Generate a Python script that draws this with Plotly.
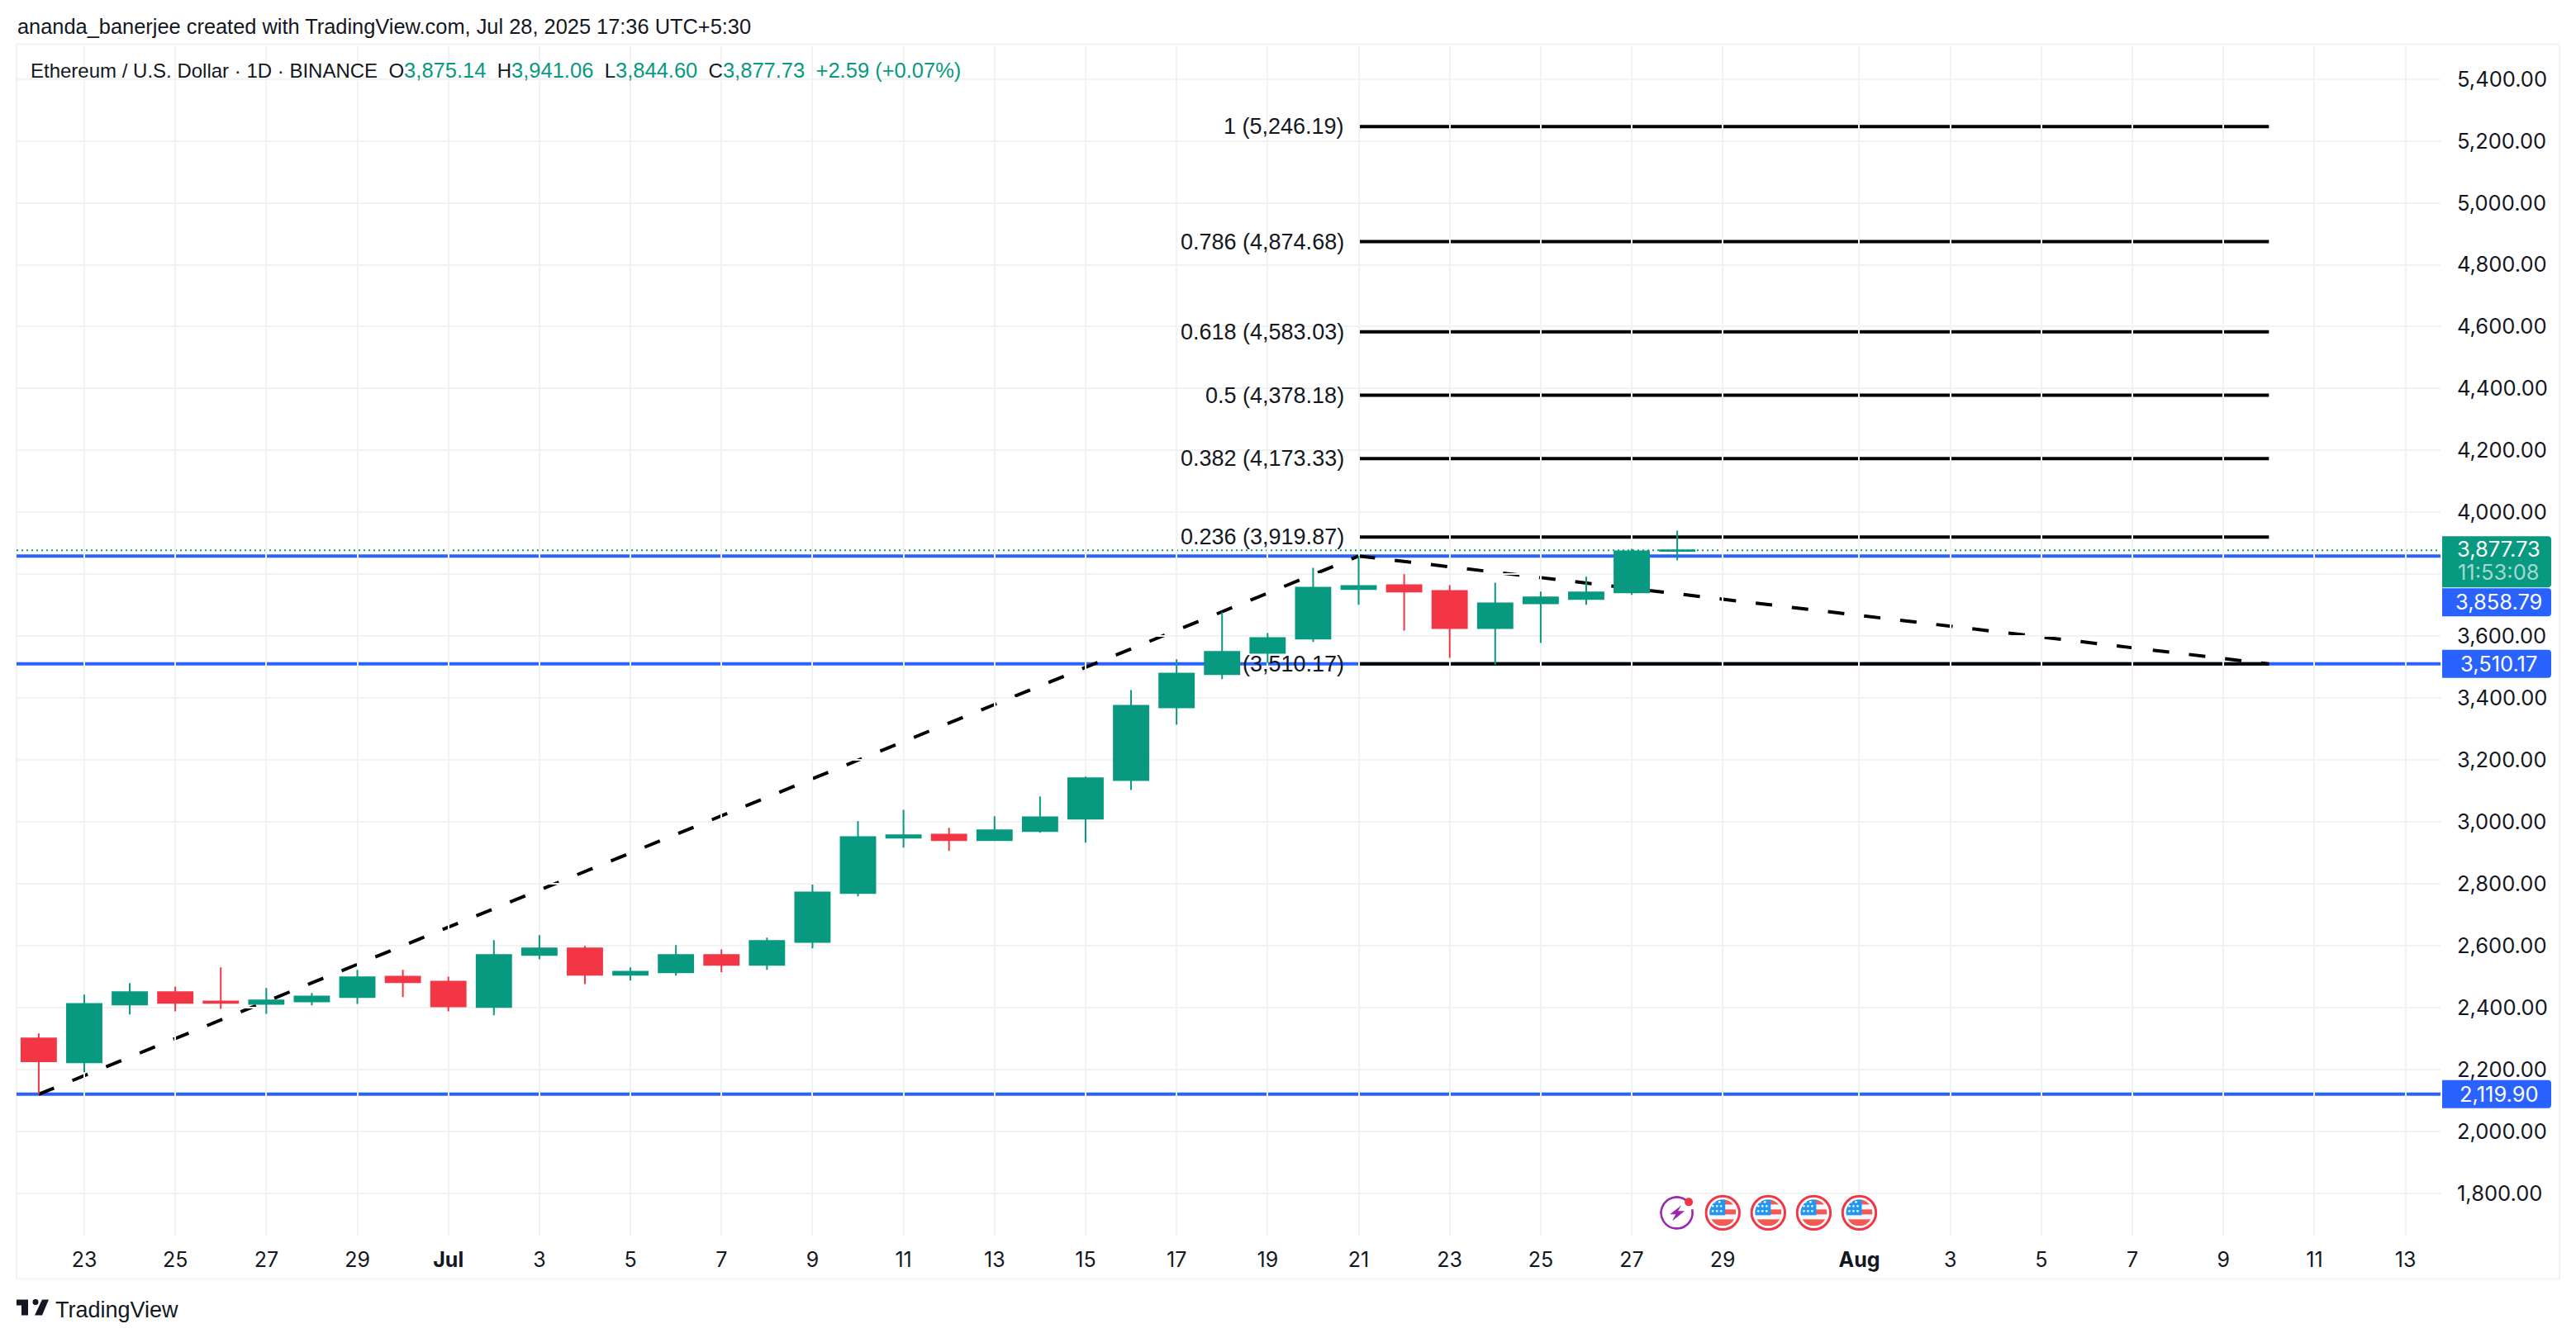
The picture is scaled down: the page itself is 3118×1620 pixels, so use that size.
import base64
import plotly.graph_objects as go

# candle data
dates = ['2025-06-22', '2025-06-23', '2025-06-24', '2025-06-25', '2025-06-26', '2025-06-27', '2025-06-28',
         '2025-06-29', '2025-06-30', '2025-07-01', '2025-07-02', '2025-07-03', '2025-07-04', '2025-07-05',
         '2025-07-06', '2025-07-07', '2025-07-08', '2025-07-09', '2025-07-10', '2025-07-11', '2025-07-12',
         '2025-07-13', '2025-07-14', '2025-07-15', '2025-07-16', '2025-07-17', '2025-07-18', '2025-07-19',
         '2025-07-20', '2025-07-21', '2025-07-22', '2025-07-23', '2025-07-24', '2025-07-25', '2025-07-26',
         '2025-07-27', '2025-07-28']
opens = [2300, 2223, 2410, 2450, 2420, 2412, 2420, 2434, 2500, 2484, 2402, 2570, 2591, 2506, 2514, 2570, 2538, 2612,
         2770, 2949, 2959, 2941, 2970, 3010, 3135, 3370, 3477, 3546, 3592, 3752, 3765, 3746, 3626, 3706, 3720,
         3741, 3875.14]
highs = [2316, 2442, 2479, 2468, 2530, 2463, 2447, 2522, 2522, 2500, 2618, 2634, 2599, 2530, 2602, 2588, 2626, 2797,
         3002, 3039, 2981, 3018, 3082, 3146, 3426, 3525, 3677, 3610, 3821, 3859, 3800, 3765, 3773, 3744, 3792,
         3882, 3941.06]
lows = [2119.9, 2191, 2378, 2388, 2396, 2380, 2407, 2412, 2434, 2388, 2375, 2556, 2476, 2487, 2503, 2514, 2522, 2591,
        2759, 2917, 2906, 2938, 2965, 2933, 3103, 3314, 3461, 3513, 3581, 3701, 3618, 3530, 3508, 3578, 3701,
        3733, 3844.6]
closes = [2226, 2412, 2450, 2415, 2415, 2423, 2436, 2498, 2482, 2404, 2570, 2591, 2506, 2516, 2570, 2538, 2615, 2772,
          2951, 2957, 2941, 2973, 3015, 3141, 3375, 3479, 3549, 3594, 3757, 3762, 3744, 3626, 3706, 3725, 3741,
          3874, 3877.73]

# fib levels and the drawn lines
fib_prices = [5246.19, 4874.68, 4583.03, 4378.18, 4173.33, 3919.87, 3510.17]
fib_labels = ['1 (5,246.19)', '0.786 (4,874.68)', '0.618 (4,583.03)', '0.5 (4,378.18)', '0.382 (4,173.33)',
              '0.236 (3,919.87)', '(3,510.17)']
fib_start = '2025-07-21'
fib_end = '2025-08-10'
trend_dates = ['2025-06-22', '2025-07-21', '2025-08-10']
trend_prices = [2119.90, 3858.79, 3510.17]
blue_prices = [3858.79, 3510.17, 2119.90]
last_price = 3877.73

# axes
x_ticks = ['2025-06-23', '2025-06-25', '2025-06-27', '2025-06-29', '2025-07-01', '2025-07-03', '2025-07-05',
           '2025-07-07', '2025-07-09', '2025-07-11', '2025-07-13', '2025-07-15', '2025-07-17', '2025-07-19',
           '2025-07-21', '2025-07-23', '2025-07-25', '2025-07-27', '2025-07-29', '2025-08-01', '2025-08-03',
           '2025-08-05', '2025-08-07', '2025-08-09', '2025-08-11', '2025-08-13']
x_labels = ['23', '25', '27', '29', '<b>Jul</b>', '3', '5', '7', '9', '11', '13', '15', '17', '19', '21', '23', '25',
            '27', '29', '<b>Aug</b>', '3', '5', '7', '9', '11', '13']
y_ticks = [1800, 2000, 2200, 2400, 2600, 2800, 3000, 3200, 3400, 3600, 3800, 4000, 4200, 4400, 4600, 4800, 5000,
           5200, 5400]
# 3,800 sits under the price tags in the reference
y_labels = ['1,800.00', '2,000.00', '2,200.00', '2,400.00', '2,600.00', '2,800.00', '3,000.00', '3,200.00', '3,400.00',
            '3,600.00', '', '4,000.00', '4,200.00', '4,400.00', '4,600.00', '4,800.00', '5,000.00', '5,200.00',
            '5,400.00']

bolt_date = '2025-07-28'
flag_dates = ['2025-07-29', '2025-07-30', '2025-07-31', '2025-08-01']
icon_price = 1737

GREEN = '#089981'
RED = '#F23645'
BLUE = '#2962FF'
GRID = '#f2f2f2'
INK = '#131722'
SANS = 'Liberation Sans'
AXIS_FONT = 'Inter'

W, H = 3118, 1620
L, R, T, B = 20, 2954, 55.5, 1496.5
FRAME_TOP = 53
PAGE_MARGIN = 8  # the browser's default body margin


def px(x):
    return (x - L) / (R - L)


def py(y):
    return (B - y) / (B - T)


shapes = []
annotations = []

# frame around the whole chart
for x0, y0, x1, y1 in [(L, FRAME_TOP, 3098, FRAME_TOP), (L, FRAME_TOP, L, 1549), (3098, FRAME_TOP, 3098, 1549),
                       (L, 1549, 3098, 1549)]:
    shapes.append(dict(type='line', xref='paper', yref='paper', x0=px(x0), x1=px(x1), y0=py(y0), y1=py(y1),
                       line=dict(color=GRID, width=2), layer='below'))

# lines under the candles
for p in blue_prices:
    shapes.append(dict(type='line', xref='paper', yref='y', x0=0, x1=1, y0=p, y1=p,
                       line=dict(color=BLUE, width=4), layer='below'))
shapes.append(dict(type='line', xref='paper', yref='y', x0=0, x1=1, y0=last_price, y1=last_price,
                   line=dict(color=GREEN, width=2, dash='2px,4px'), layer='below'))
for p, label in zip(fib_prices, fib_labels):
    shapes.append(dict(type='line', xref='x', yref='y', x0=fib_start, x1=fib_end, y0=p, y1=p,
                       line=dict(color='#000000', width=4), layer='below'))
    annotations.append(dict(x=fib_start, y=p, xref='x', yref='y', text=label, showarrow=False, xanchor='right',
                            xshift=-16, font=dict(family=SANS, size=27, color=INK)))
for i in range(len(trend_dates) - 1):
    shapes.append(dict(type='line', xref='x', yref='y', x0=trend_dates[i], x1=trend_dates[i + 1],
                       y0=trend_prices[i], y1=trend_prices[i + 1],
                       line=dict(color='#000000', width=4, dash='20px,24px'), layer='below'))


# price tags on the right axis
def add_tag(price, color, top, bottom):
    shapes.append(dict(type='path', xref='paper', yref='y', xsizemode='pixel', ysizemode='pixel', xanchor=1,
                       yanchor=price, fillcolor=color, line=dict(width=0), layer='above',
                       path=f'M 2,{top} L 130,{top} Q 134,{top} 134,{top - 4} L 134,{bottom + 4} '
                            f'Q 134,{bottom} 130,{bottom} L 2,{bottom} Z'))


def add_tag_text(price, text, yshift, color='#ffffff'):
    annotations.append(dict(x=1, y=price, xref='paper', yref='y', text=text, showarrow=False, xanchor='center',
                            xshift=70.5, yshift=yshift, font=dict(family=AXIS_FONT, size=25.5, color=color)))


add_tag(3877.73, GREEN, 17, -45)
add_tag_text(3877.73, '3,877.73', 2)
add_tag_text(3877.73, '11:53:08', -26, 'rgba(255,255,255,0.65)')
add_tag(3858.79, BLUE, -39, -73)
add_tag_text(3858.79, '3,858.79', -55)
add_tag(3510.17, BLUE, 17, -17)
add_tag_text(3510.17, '3,510.17', 0)
add_tag(2119.90, BLUE, 17, -17)
add_tag_text(2119.90, '2,119.90', 0)

# header and legend
annotations.append(dict(x=px(19), y=py(31), xref='paper', yref='paper', xanchor='left', yanchor='middle',
                        showarrow=False,
                        text='ananda_banerjee created with TradingView.com, Jul 28, 2025 17:36 UTC+5:30',
                        font=dict(family=SANS, size=25.4, color=INK)))
val = '<span style="color:%s;font-size:25.5px">%%s</span>' % GREEN
legend_text = ('Ethereum / U.S. Dollar · 1D · BINANCE\u00a0\u00a0O' + val % '3,875.14' + '\u00a0\u00a0H' + val % '3,941.06'
               + '\u00a0\u00a0L' + val % '3,844.60' + '\u00a0\u00a0C' + val % '3,877.73'
               + '\u00a0\u00a0' + val % '+2.59 (+0.07%)')
annotations.append(dict(x=px(35), y=py(85), xref='paper', yref='paper', xanchor='left', yanchor='middle',
                        showarrow=False, text=legend_text, font=dict(family=SANS, size=24, color=INK)))

# TradingView mark, bottom left
annotations.append(dict(x=px(65), y=py(1587), xref='paper', yref='paper', xanchor='left', yanchor='middle',
                        showarrow=False, text='TradingView', font=dict(family=SANS, size=27, color=INK)))
for points in [[(20, 1574), (34, 1574), (34, 1593), (26, 1593), (26, 1581), (20, 1581)],
               [(51, 1574), (59, 1574), (51, 1593), (42, 1593)]]:
    path = 'M ' + ' L '.join(f'{px(a)},{py(b)}' for a, b in points) + ' Z'
    shapes.append(dict(type='path', xref='paper', yref='paper', path=path, fillcolor=INK, line=dict(width=0)))
shapes.append(dict(type='circle', xref='paper', yref='paper', x0=px(39.5), x1=px(46.5), y0=py(1580.5), y1=py(1573.5),
                   fillcolor=INK, line=dict(width=0)))

# event icons
flag_svg = """<svg xmlns="http://www.w3.org/2000/svg" width="44" height="44" viewBox="0 0 44 44">
<defs><clipPath id="c"><circle cx="22" cy="22" r="16"/></clipPath></defs>
<circle cx="22" cy="22" r="20.2" fill="#fff" stroke="#F23645" stroke-width="3"/>
<g clip-path="url(#c)"><rect width="44" height="44" fill="#f7f8ff"/>
<rect x="6" y="6" width="32" height="6" fill="#f25a52"/><rect x="6" y="18" width="32" height="6" fill="#f25a52"/>
<rect x="6" y="30" width="32" height="8" fill="#f25a52"/><rect x="6" y="6" width="19" height="19" fill="#2196f3"/>
<g fill="#fff"><circle cx="12" cy="9" r="1.3"/><circle cx="18" cy="9" r="1.3"/><circle cx="10" cy="14" r="1.3"/>
<circle cx="15" cy="14" r="1.3"/><circle cx="20" cy="14" r="1.3"/><circle cx="10" cy="20" r="1.3"/>
<circle cx="15" cy="20" r="1.3"/><circle cx="20" cy="20" r="1.3"/></g></g></svg>"""
bolt_svg = """<svg xmlns="http://www.w3.org/2000/svg" width="44" height="44" viewBox="0 0 44 44">
<path d="M 33 7 A 19 19 0 1 0 40 18" fill="none" stroke="#9c27b0" stroke-width="2.6"/>
<circle cx="36" cy="9" r="5" fill="#F23645"/>
<path d="M 27 13 L 13 24 L 20 24 L 16 32 L 31 20 L 23 20 Z" fill="#9c27b0"/></svg>"""


def svg_uri(svg):
    return 'data:image/svg+xml;base64,' + base64.b64encode(svg.encode()).decode()


images = []
for d, svg in [(bolt_date, bolt_svg)] + [(d, flag_svg) for d in flag_dates]:
    images.append(dict(source=svg_uri(svg), xref='x', yref='y', x=d, y=icon_price, xanchor='center', yanchor='middle',
                       sizex=44 / 55.09 * 86400000, sizey=44 / 0.375, sizing='stretch', layer='above'))

data = [go.Candlestick(x=dates, open=opens, high=highs, low=lows, close=closes, whiskerwidth=0,
                       increasing=dict(line=dict(color=GREEN, width=2), fillcolor=GREEN),
                       decreasing=dict(line=dict(color=RED, width=2), fillcolor=RED),
                       showlegend=False)]

layout = go.Layout(width=W - 2 * PAGE_MARGIN, height=H - 2 * PAGE_MARGIN, paper_bgcolor='#ffffff', plot_bgcolor='#ffffff',
                   margin=dict(l=L - PAGE_MARGIN, r=W - PAGE_MARGIN - R, t=T - PAGE_MARGIN, b=H - PAGE_MARGIN - B,
                               autoexpand=False),
                   xaxis=dict(type='date', range=['2025-06-21 12:17', '2025-08-13 18:29'], rangeslider=dict(visible=False),
                              tickmode='array', tickvals=x_ticks, ticktext=x_labels, showgrid=True, gridcolor=GRID,
                              gridwidth=2, ticks='', ticklabelstandoff=12, zeroline=False, showline=False,
                              tickfont=dict(family=AXIS_FONT, size=25, color=INK)),
                   yaxis=dict(side='right', range=[1663.2, 5505.9], tickmode='array', tickvals=y_ticks,
                              ticktext=y_labels, showgrid=True, gridcolor=GRID, gridwidth=2, ticks='',
                              ticklabelstandoff=19, zeroline=False, showline=False,
                              tickfont=dict(family=AXIS_FONT, size=25.5, color=INK)),
                   shapes=shapes, annotations=annotations, images=images, boxgap=0.24, boxgroupgap=0,
                   showlegend=False, hovermode=False)
fig = go.Figure(data=data, layout=layout)
fig.write_html('out.html')
